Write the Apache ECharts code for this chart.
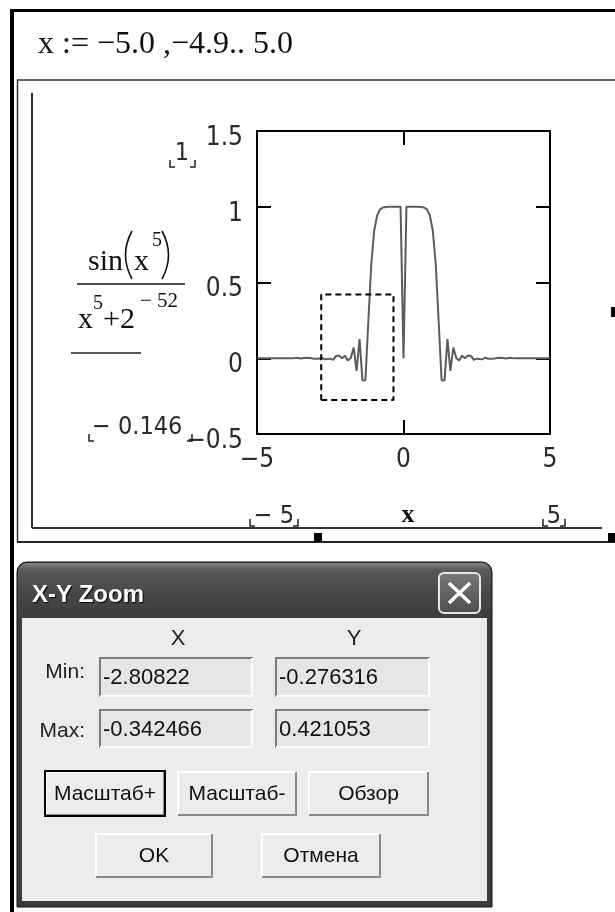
<!DOCTYPE html>
<html>
<head>
<meta charset="utf-8">
<script src="https://cdn.jsdelivr.net/npm/echarts@6/dist/echarts.min.js"></script>
<style>
html,body{margin:0;padding:0;background:#fff;}
#c{width:615px;height:912px;}
</style>
</head>
<body>
<div id="c"></div>
<script>
// ---- data ----
const xValues = [-5.0,-4.9,-4.8,-4.7,-4.6,-4.5,-4.4,-4.3,-4.2,-4.1,-4.0,-3.9,-3.8,-3.7,-3.6,-3.5,-3.4,-3.3,-3.2,-3.1,-3.0,-2.9,-2.8,-2.7,-2.6,-2.5,-2.4,-2.3,-2.2,-2.1,-2.0,-1.9,-1.8,-1.7,-1.6,-1.5,-1.4,-1.3,-1.2,-1.1,-1.0,-0.9,-0.8,-0.7,-0.6,-0.5,-0.4,-0.3,-0.2,-0.1,0.0,0.1,0.2,0.3,0.4,0.5,0.6,0.7,0.8,0.9,1.0,1.1,1.2,1.3,1.4,1.5,1.6,1.7,1.8,1.9,2.0,2.1,2.2,2.3,2.4,2.5,2.6,2.7,2.8,2.9,3.0,3.1,3.2,3.3,3.4,3.5,3.6,3.7,3.8,3.9,4.0,4.1,4.2,4.3,4.4,4.5,4.6,4.7,4.8,4.9,5.0];
const yValues = [0.00025,-0.00016,-0.00008,0.00004,-0.00046,-0.00050,0.00010,-0.00012,0.00001,0.00055,-0.00016,-0.00063,0.00078,0.00109,0.00165,-0.00103,0.00203,0.00249,0.00170,-0.00138,-0.00366,-0.00384,0.00367,-0.00595,-0.00452,-0.00270,-0.01112,0.01553,0.01854,-0.00001,0.01723,-0.01467,0.00244,0.07030,-0.08324,0.12725,-0.14622,-0.14564,0.24426,0.62043,0.84147,0.94289,0.98220,0.99530,0.99899,0.99984,0.99998,1.0,1.0,1.0,0.0,1.0,1.0,1.0,0.99998,0.99984,0.99899,0.99530,0.98220,0.94289,0.84147,0.62043,0.24426,-0.14564,-0.14622,0.12725,-0.08324,0.07030,0.00244,-0.01467,0.01723,-0.00001,0.01854,0.01553,-0.01112,-0.00270,-0.00452,-0.00595,0.00367,-0.00384,-0.00366,-0.00138,0.00170,0.00249,0.00203,-0.00103,0.00165,0.00109,0.00078,-0.00063,-0.00016,0.00055,0.00001,-0.00012,0.00010,-0.00050,-0.00046,0.00004,-0.00008,-0.00016,0.00025];
const xTickValues = [-5, 0, 5];
const xTickLabels = ['\u22125', '0', '5'];
const yTickValues = [-0.5, 0, 0.5, 1, 1.5];
const yTickLabels = ['\u22120.5', '0', '0.5', '1', '1.5'];
const zoomX = [-2.80822, -0.342466];   // X Min, X Max
const zoomY = [-0.276316, 0.421053];   // Y Min, Y Max
const zoomXText = ['-2.80822', '-0.342466'];
const zoomYText = ['-0.276316', '0.421053'];
const rangeText = '\u0078 := \u22125.0 ,\u22124.9.. 5.0';
const yMaxMarker = '1';
const yMinMarker = '\u2212 0.146';
const xMinMarker = '\u2212 5';
const xMaxMarker = '5';
const buttonLabels = ['\u041c\u0430\u0441\u0448\u0442\u0430\u0431+', '\u041c\u0430\u0441\u0448\u0442\u0430\u0431-', '\u041e\u0431\u0437\u043e\u0440', 'OK', '\u041e\u0442\u043c\u0435\u043d\u0430'];

// ---- chart ----
const chart = echarts.init(document.getElementById('c'), null, {renderer: 'canvas'});
const NUM_FONT = '"Liberation Sans Narrow", "DejaVu Sans Condensed", "DejaVu Sans", sans-serif';
const SERIF = '"Liberation Serif", "DejaVu Serif", serif';
const UI = '"Liberation Sans", "DejaVu Sans", sans-serif';

function fmt(vals, labels) {
  return function (v) {
    const i = vals.findIndex(t => Math.abs(t - v) < 1e-9);
    return i >= 0 ? labels[i] : '';
  };
}
const lineBase = {show: true, onZero: false, lineStyle: {color: '#000', width: 2}};
const tickBase = {show: true, inside: true, length: 14, lineStyle: {color: '#000', width: 2}};

const curve = xValues.map((x, i) => [x, yValues[i]]);
const zoomBox = [
  [zoomX[0], zoomY[0]], [zoomX[1], zoomY[0]], [zoomX[1], zoomY[1]],
  [zoomX[0], zoomY[1]], [zoomX[0], zoomY[0]]
];

// graphic helpers
const G = [];
function line(x1, y1, x2, y2, color, w, z) {
  G.push({type: 'line', silent: true, z: z || 10, shape: {x1, y1, x2, y2}, style: {stroke: color, lineWidth: w}});
}
function rect(x, y, w, h, fill, stroke, lw, r, z) {
  G.push({type: 'rect', silent: true, z: z || 10, shape: {x, y, width: w, height: h, r: r || 0},
    style: {fill: fill, stroke: stroke || null, lineWidth: lw || 0}});
}
function poly(points, color, w, z) {
  G.push({type: 'polyline', silent: true, z: z || 10, shape: {points}, style: {stroke: color, lineWidth: w, fill: null}});
}
function text(x, y, t, font, color, align, extra, z) {
  const st = Object.assign({text: t, font: font, fill: color || '#111', textAlign: align || 'left', textVerticalAlign: 'middle'}, extra || {});
  G.push({type: 'text', silent: true, z: z || 12, x, y, style: st});
}
function bracketL(x, y) { poly([[x, y - 7], [x, y], [x + 5, y]], '#222', 1.5); }
function bracketR(x, y) { poly([[x - 5, y], [x, y], [x, y - 7]], '#222', 1.5); }

// page frame
rect(10, 9, 605, 3, '#000');
rect(10, 9, 4, 903, '#000');
text(38, 45, rangeText, '32px ' + SERIF, '#111');

// plot region frame
line(17, 80, 615, 80, '#333', 1.5);
line(17.5, 80, 17.5, 542, '#333', 1.5);
line(17, 542, 615, 542, '#222', 2);
line(32, 93, 32, 528, '#333', 2);
line(32, 528, 602, 528, '#333', 2);
rect(314, 533, 8, 9, '#000');
rect(608, 533, 7, 9, '#000');
rect(611, 307, 4, 10, '#000');

// y max marker
text(182, 153, yMaxMarker, '25px ' + NUM_FONT, '#2a2a2a', 'center');
bracketL(170, 167); bracketR(195, 167);

// formula  sin(x^5) / (x^5 + 2^-52)
text(88, 262, 'sin', '30px ' + SERIF, '#111');
G.push({type: 'bezierCurve', silent: true, z: 12, shape: {x1: 132, y1: 231, cpx1: 119, cpy1: 255, x2: 132, y2: 279}, style: {stroke: '#111', lineWidth: 1.6, fill: null}});
text(134, 262, 'x', '30px ' + SERIF, '#111');
text(152, 241, '5', '20px ' + SERIF, '#111');
G.push({type: 'bezierCurve', silent: true, z: 12, shape: {x1: 162, y1: 231, cpx1: 175, cpy1: 255, x2: 162, y2: 279}, style: {stroke: '#111', lineWidth: 1.6, fill: null}});
line(77, 284, 185, 284, '#111', 1.6);
text(78, 320, 'x', '30px ' + SERIF, '#111');
text(93, 304, '5', '20px ' + SERIF, '#111');
text(103, 320, '+2', '30px ' + SERIF, '#111');
text(140, 301, '\u2212 52', '21px ' + SERIF, '#111');
line(71, 353, 141, 353, '#222', 1.5);

// y min marker
text(92, 427, yMinMarker, '25px ' + NUM_FONT, '#2a2a2a');
bracketL(89, 441); bracketR(192, 441);

// x range markers
text(274, 516, xMinMarker, '25px ' + NUM_FONT, '#2a2a2a', 'center');
bracketL(250, 526); bracketR(298, 526);
text(408, 515, 'x', 'bold 26px ' + SERIF, '#111', 'center');
text(554, 516, xMaxMarker, '25px ' + NUM_FONT, '#2a2a2a', 'center');
bracketL(543, 526); bracketR(565, 526);

// ---- dialog ----
const D = 30;
rect(17, 562, 475, 345, '#3c3c3c', '#111', 1, [10, 10, 0, 0], D);
rect(18, 563, 473, 55, new echarts.graphic.LinearGradient(0, 0, 0, 1, [
  {offset: 0, color: '#858585'}, {offset: 0.12, color: '#5a5a5a'},
  {offset: 0.55, color: '#474747'}, {offset: 1, color: '#3d3d3d'}]), null, 0, [9, 9, 0, 0], D);
rect(22, 618, 465, 283, '#ececec', null, 0, 0, D);
text(32, 595, 'X-Y Zoom', 'bold 24px ' + UI, '#fff', 'left',
  {textShadowColor: '#000', textShadowOffsetX: 1, textShadowOffsetY: 1, textShadowBlur: 1}, D + 2);
rect(439, 573, 41, 40, new echarts.graphic.LinearGradient(0, 0, 0, 1, [
  {offset: 0, color: '#7a7a7a'}, {offset: 1, color: '#4c4c4c'}]), '#e8e8e8', 2, 5, D + 1);
line(449, 583, 470, 603, '#fff', 3.5, D + 2);
line(470, 583, 449, 603, '#fff', 3.5, D + 2);

text(178, 639, 'X', '22px ' + UI, '#222', 'center', null, D + 2);
text(354, 639, 'Y', '22px ' + UI, '#222', 'center', null, D + 2);
text(85, 672, 'Min:', '21px ' + UI, '#222', 'right', null, D + 2);
text(85, 731, 'Max:', '21px ' + UI, '#222', 'right', null, D + 2);

function inputBox(x, y, w, h, t) {
  rect(x, y, w, h, '#e6e6e6', null, 0, 0, D + 1);
  poly([[x + 1, y + h], [x + 1, y + 1], [x + w, y + 1]], '#7c7c7c', 2, D + 2);
  poly([[x + w - 1, y + 1], [x + w - 1, y + h - 1], [x + 1, y + h - 1]], '#fbfbfb', 2, D + 2);
  text(x + 4, y + h / 2 + 1, t, '22px ' + UI, '#111', 'left', null, D + 3);
}
inputBox(99, 657, 154, 40, zoomXText[0]);
inputBox(275, 657, 155, 40, zoomYText[0]);
inputBox(99, 709, 154, 39, zoomXText[1]);
inputBox(275, 709, 155, 39, zoomYText[1]);

function button(x, y, w, h, t, def) {
  rect(x, y, w, h, '#ececec', null, 0, 0, D + 1);
  poly([[x + 1, y + h - 1], [x + 1, y + 1], [x + w - 1, y + 1]], '#ffffff', 2, D + 2);
  poly([[x + w - 1, y + 1], [x + w - 1, y + h - 1], [x + 1, y + h - 1]], '#8a8a8a', 2, D + 2);
  if (def) rect(x, y, w, h, null, '#000', 2, 0, D + 3);
  text(x + w / 2, y + h / 2 + 1, t, '21px ' + UI, '#111', 'center', null, D + 3);
}
button(45, 771, 120, 45, buttonLabels[0], true);
button(177, 771, 120, 45, buttonLabels[1]);
button(308, 771, 121, 45, buttonLabels[2]);
button(95, 833, 118, 45, buttonLabels[3]);
button(261, 833, 120, 45, buttonLabels[4]);

chart.setOption({
  animation: false,
  backgroundColor: '#fff',
  grid: {left: 257, top: 131, width: 293, height: 303, containLabel: false},
  xAxis: [
    {type: 'value', min: -5, max: 5, interval: 5, position: 'bottom',
      axisLine: lineBase, axisTick: tickBase, splitLine: {show: false},
      axisLabel: {show: true, margin: 13, fontSize: 26, fontFamily: NUM_FONT, color: '#2a2a2a',
        formatter: fmt(xTickValues, xTickLabels)}},
    {type: 'value', min: -5, max: 5, interval: 5, position: 'top',
      axisLine: lineBase, axisTick: tickBase, splitLine: {show: false}, axisLabel: {show: false}}
  ],
  yAxis: [
    {type: 'value', min: -0.5, max: 1.5, interval: 0.5, position: 'left',
      axisLine: lineBase, axisTick: tickBase, splitLine: {show: false},
      axisLabel: {show: true, margin: 14, fontSize: 26, fontFamily: NUM_FONT, color: '#2a2a2a',
        verticalAlign: 'top', lineHeight: 14, formatter: fmt(yTickValues, yTickLabels)}},
    {type: 'value', min: -0.5, max: 1.5, interval: 0.5, position: 'right',
      axisLine: lineBase, axisTick: tickBase, splitLine: {show: false}, axisLabel: {show: false}}
  ],
  series: [
    {type: 'line', data: curve, xAxisIndex: 0, yAxisIndex: 0, showSymbol: false, symbol: 'none',
      lineStyle: {color: '#5c5c5c', width: 2}, z: 3, silent: true},
    {type: 'line', data: zoomBox, xAxisIndex: 0, yAxisIndex: 0, showSymbol: false, symbol: 'none',
      lineStyle: {color: '#000', width: 2, type: [6, 4]}, z: 4, silent: true}
  ],
  graphic: {elements: G}
});
</script>
</body>
</html>
